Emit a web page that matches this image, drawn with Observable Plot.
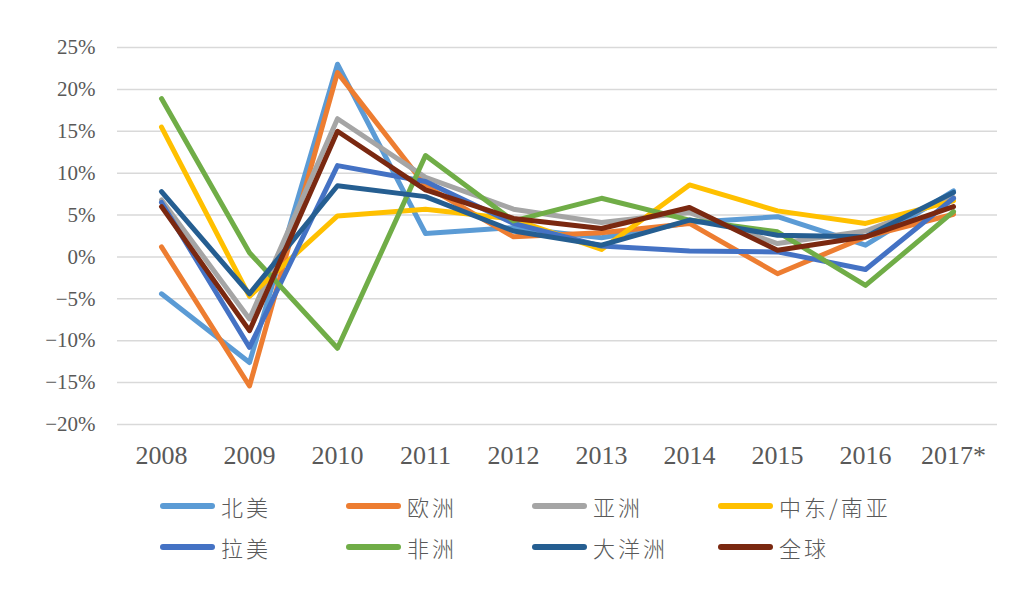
<!DOCTYPE html>
<html>
<head>
<meta charset="utf-8">
<script src="https://cdn.jsdelivr.net/npm/d3@7"></script>
<script src="https://cdn.jsdelivr.net/npm/@observablehq/plot@0.6"></script>
<style>
  html, body { margin: 0; padding: 0; background: #ffffff; }
  #chart { width: 1030px; }
  #legend {
    display: grid;
    grid-template-columns: repeat(4, 186px);
    row-gap: 13px;
    padding-left: 160px;
    padding-top: 17px;
    font-family: "Noto Sans CJK SC", sans-serif;
    font-weight: 300;
    font-size: 22px;
    letter-spacing: 3px;
    color: #595959;
  }
  .item { display: flex; align-items: center; height: 28px; white-space: nowrap; }
  .sw { width: 55px; height: 6px; border-radius: 3px; margin-right: 6px; }
</style>
</head>
<body>
<div id="chart"></div>
<div id="legend"></div>
<script>
const years = ["2008", "2009", "2010", "2011", "2012", "2013", "2014", "2015", "2016", "2017*"];
const regions = ["北美", "欧洲", "亚洲", "中东/南亚", "拉美", "非洲", "大洋洲", "全球"];
const colors = ["#5B9BD5", "#ED7D31", "#A5A5A5", "#FFC000", "#4472C4", "#70AD47", "#255E91", "#7A2810"];
const yTicks = [-20, -15, -10, -5, 0, 5, 10, 15, 20, 25];

const northAmerica = [-4.4, -12.6, 23.0, 2.8, 3.5, 2.3, 4.1, 4.8, 1.4, 7.9];
const europe       = [1.2, -15.4, 22.0, 8.5, 2.4, 2.9, 4.0, -2.0, 2.4, 5.1];
const asia         = [6.8, -7.4, 16.5, 9.5, 5.7, 4.1, 5.3, 1.6, 3.1, 7.1];
const meSouthAsia  = [15.5, -4.7, 4.9, 5.7, 4.5, 0.9, 8.6, 5.5, 4.0, 6.7];
const latinAmerica = [6.5, -10.8, 10.9, 9.0, 4.0, 1.3, 0.7, 0.6, -1.5, 7.0];
const africa       = [18.9, 0.5, -10.9, 12.1, 4.3, 7.0, 4.4, 3.0, -3.4, 5.4];
const oceania      = [7.8, -4.4, 8.5, 7.2, 3.1, 1.4, 4.4, 2.6, 2.4, 7.7];
const world        = [6.0, -8.8, 15.0, 8.0, 4.6, 3.4, 5.9, 0.8, 2.4, 6.0];

const seriesValues = [northAmerica, europe, asia, meSouthAsia, latinAmerica, africa, oceania, world];

const rows = [];
regions.forEach((r, i) => {
  years.forEach((y, j) => rows.push({region: r, year: y, value: seriesValues[i][j]}));
});

const fmt = d => (d < 0 ? "\u2212" : "") + Math.abs(d) + "%";

const plot = Plot.plot({
  width: 1030,
  height: 475,
  marginLeft: 117,
  marginRight: 33,
  marginTop: 47,
  marginBottom: 51,
  style: {
    fontFamily: "'Liberation Serif', 'Noto Sans CJK SC', serif",
    fontSize: "21px",
    color: "#595959",
    background: "#ffffff"
  },
  x: {type: "point", domain: years, padding: 0.5},
  y: {domain: [-20, 25]},
  color: {domain: regions, range: colors},
  marks: [
    Plot.ruleY(yTicks, {stroke: "#d9d9d9", strokeWidth: 1.5}),
    Plot.axisY({ticks: yTicks, tickSize: 0, tickPadding: 22, tickFormat: fmt, label: null}),
    Plot.axisX({tickSize: 0, tickPadding: 21, label: null, fontSize: 26}),
    Plot.line(rows, {
      x: "year", y: "value", z: "region", stroke: "region",
      strokeWidth: 5, strokeLinejoin: "round", strokeLinecap: "round"
    })
  ]
});
document.getElementById("chart").appendChild(plot);

const legend = document.getElementById("legend");
regions.forEach((r, i) => {
  const item = document.createElement("div");
  item.className = "item";
  const sw = document.createElement("span");
  sw.className = "sw";
  sw.style.background = colors[i];
  const t = document.createElement("span");
  t.textContent = r;
  item.appendChild(sw);
  item.appendChild(t);
  legend.appendChild(item);
});
</script>
</body>
</html>
